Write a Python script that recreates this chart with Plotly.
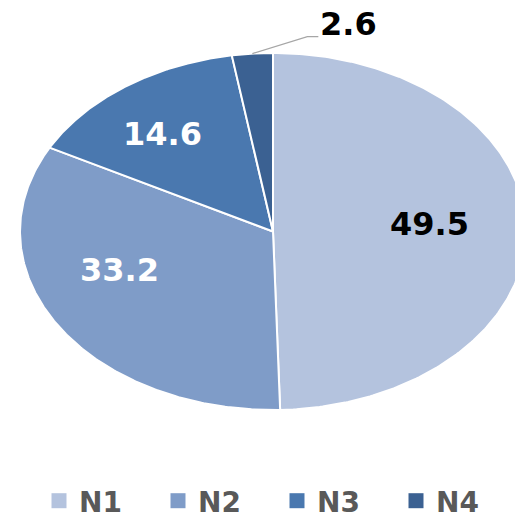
import numpy as np
import plotly.graph_objects as go

# ---- data ----
categories = ["N1", "N2", "N3", "N4"]
values = [49.5, 33.2, 14.6, 2.6]
value_labels = ["49.5", "33.2", "14.6", "2.6"]

# ---- styles ----
colors = ["#B4C3DE", "#7F9CC8", "#4A78AF", "#3B6192"]
label_colors = ["#000000", "#FFFFFF", "#FFFFFF", "#000000"]
label_nudge_px = [(-5, -6), (-16, -22), (-16, -5), (0, 0)]   # pixel nudges of the label boxes
FONT = "DejaVu Sans"
LABEL_SIZE = 32
LEGEND_SIZE = 28
LABEL_R = 0.64

W, H = 515, 526
cx_px, cy_px = 273, 231.5     # ellipse centre in pixels
rx_px, ry_px = 253, 178.5     # ellipse radii in pixels

x_range = [-cx_px / rx_px, (W - cx_px) / rx_px]
y_range = [-(H - cy_px) / ry_px, cy_px / ry_px]

vals = np.array(values, dtype=float)
frac = vals / vals.sum()
cum = np.concatenate([[0.0], np.cumsum(frac)])

fig = go.Figure()

for i, cat in enumerate(categories):
    th = np.linspace(cum[i], cum[i + 1], 240) * 2 * np.pi
    xs = np.concatenate([[0.0], np.sin(th), [0.0]])
    ys = np.concatenate([[0.0], np.cos(th), [0.0]])
    fig.add_trace(go.Scatter(
        x=xs, y=ys, mode="lines", fill="toself",
        fillcolor=colors[i], line=dict(color="white", width=2),
        hoverinfo="skip", showlegend=False, name=cat))

# data labels
for i, cat in enumerate(categories):
    mid = (cum[i] + cum[i + 1]) / 2 * 2 * np.pi
    if frac[i] > 0.05:
        nx, ny = label_nudge_px[i]
        fig.add_annotation(
            x=LABEL_R * np.sin(mid) + nx / rx_px,
            y=LABEL_R * np.cos(mid) - ny / ry_px,
            text=value_labels[i], showarrow=False,
            font=dict(family=FONT, size=LABEL_SIZE, color=label_colors[i], weight="bold"))
    else:
        ex, ey = np.sin(mid), np.cos(mid)
        kx, ky = ex + 55 / rx_px, ey + 17 / ry_px
        tx = kx + 11 / rx_px
        fig.add_trace(go.Scatter(
            x=[ex, kx, tx], y=[ey, ky, ky], mode="lines",
            line=dict(color="#A6A6A6", width=1.2),
            hoverinfo="skip", showlegend=False))
        fig.add_annotation(
            x=tx, y=ky + 13 / ry_px, xanchor="left", yanchor="middle",
            text=value_labels[i], showarrow=False,
            font=dict(family=FONT, size=LABEL_SIZE, color=label_colors[i], weight="bold"))

# legend entries
for i, cat in enumerate(categories):
    fig.add_trace(go.Scatter(
        x=[None], y=[None], mode="markers", name=cat,
        marker=dict(symbol="square", size=15, color=colors[i]),
        showlegend=True))

fig.update_layout(
    width=W, height=H,
    margin=dict(l=0, r=0, t=0, b=0),
    paper_bgcolor="white", plot_bgcolor="white",
    xaxis=dict(range=x_range, visible=False, fixedrange=True),
    yaxis=dict(range=y_range, visible=False, fixedrange=True),
    showlegend=True,
    legend=dict(
        orientation="h", x=40 / W, xanchor="left", y=0, yanchor="bottom",
        font=dict(family=FONT, size=LEGEND_SIZE, color="#595959", weight="bold"),
        entrywidth=74, entrywidthmode="pixels",
        bgcolor="rgba(0,0,0,0)"),
)

fig.write_html("out.html", config={"displayModeBar": False},
               post_script="document.body.style.margin='0';"
                           "document.body.style.overflow='hidden';")
